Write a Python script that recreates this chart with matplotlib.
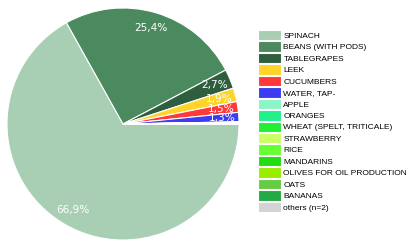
import matplotlib
matplotlib.use("Agg")
import matplotlib.pyplot as plt

labels = ["SPINACH", "BEANS (WITH PODS)", "TABLEGRAPES", "LEEK", "CUCUMBERS",
          "WATER, TAP-", "APPLE", "ORANGES", "WHEAT (SPELT, TRITICALE)",
          "STRAWBERRY", "RICE", "MANDARINS", "OLIVES FOR OIL PRODUCTION",
          "OATS", "BANANAS", "others (n=2)"]
values = [66.9, 25.4, 2.7, 1.9, 1.5, 1.3, 0.05, 0.04, 0.03, 0.03, 0.03,
          0.03, 0.02, 0.02, 0.02, 0.03]
colors = ["#a8cfb4", "#4a8a5e", "#2f5e3f", "#ffd42a", "#ff3838", "#3c3cf0",
          "#8cf5c8", "#22f08a", "#22ee33", "#ccff66", "#66ff33", "#22dd11",
          "#99ee00", "#66cc44", "#22aa44", "#d3d3d3"]

plt.rcParams['font.family'] = ['Liberation Sans', 'DejaVu Sans']
fig = plt.figure(figsize=(4.08, 2.40), dpi=100)
ax = fig.add_axes([7/408, 0.0, 232/408, 232/240])

def fmt(p):
    return ("%.1f%%" % p).replace(".", ",") if p >= 1 else ""

wedges, texts, autotexts = ax.pie(values, colors=colors, startangle=0,
                                  counterclock=False, autopct=fmt,
                                  pctdistance=0.86,
                                  wedgeprops=dict(edgecolor="white", linewidth=0.8),
                                  textprops=dict(color="white", fontsize=7.6,
                                                 family="DejaVu Sans"))
ax.set_xlim(-1, 1)
ax.set_ylim(-1, 1)
ax.set_aspect("equal")

fig.legend(wedges, labels, loc="upper left", bbox_to_anchor=(258/408, 1 - 30/240),
           frameon=False, fontsize=6.0, handlelength=2.75, handleheight=1.55,
           labelspacing=0.12, handletextpad=0.3, borderaxespad=0, borderpad=0)

fig.savefig("out.png", dpi=100)
